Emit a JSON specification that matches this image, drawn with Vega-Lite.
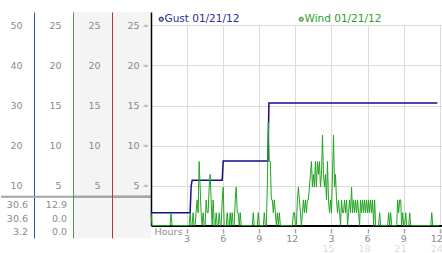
{
  "$schema": "https://vega.github.io/schema/vega-lite/v6.json",
  "padding": {"left": 0, "top": 12, "right": 0, "bottom": 0},
  "background": "white",
  "spacing": 0,
  "bounds": "flush",
  "config": {
    "font": "DejaVu Sans",
    "view": {"stroke": null},
    "axis": {"labelFont": "DejaVu Sans", "titleFont": "DejaVu Sans", "labelColor": "#8a8a8a", "labelFontSize": 9.5, "grid": false, "title": null}
  },
  "datasets": {
    "gust": [{"t":0,"gust":3.2},{"t":195,"gust":3.2},{"t":200,"gust":9.7},{"t":205,"gust":11.3},{"t":355,"gust":11.3},{"t":360,"gust":16.1},{"t":583,"gust":16.1},{"t":588,"gust":30.6},{"t":1428,"gust":30.6}],
    "stats": [{"series":"Gust","stat":"max","value":30.6},{"series":"Gust","stat":"now","value":30.6},{"series":"Gust","stat":"min","value":3.2},{"series":"Wind","stat":"max","value":12.9},{"series":"Wind","stat":"now","value":0},{"series":"Wind","stat":"min","value":0}],
    "wind": [{"t":0,"w":1.6},{"t":5,"w":0},{"t":10,"w":0},{"t":15,"w":0},{"t":20,"w":0},{"t":25,"w":0},{"t":30,"w":0},{"t":35,"w":0},{"t":40,"w":0},{"t":45,"w":0},{"t":50,"w":0},{"t":55,"w":0},{"t":60,"w":0},{"t":65,"w":0},{"t":70,"w":0},{"t":75,"w":0},{"t":80,"w":0},{"t":85,"w":0},{"t":90,"w":0},{"t":95,"w":0},{"t":100,"w":1.6},{"t":105,"w":0},{"t":110,"w":0},{"t":115,"w":0},{"t":120,"w":0},{"t":125,"w":0},{"t":130,"w":0},{"t":135,"w":0},{"t":140,"w":0},{"t":145,"w":0},{"t":150,"w":0},{"t":155,"w":0},{"t":160,"w":0},{"t":165,"w":0},{"t":170,"w":0},{"t":175,"w":0},{"t":180,"w":0},{"t":185,"w":0},{"t":190,"w":0},{"t":195,"w":1.6},{"t":200,"w":0},{"t":205,"w":0},{"t":210,"w":1.6},{"t":215,"w":0},{"t":220,"w":0},{"t":225,"w":1.6},{"t":230,"w":3.2},{"t":235,"w":1.6},{"t":240,"w":8},{"t":245,"w":4.8},{"t":250,"w":1.6},{"t":255,"w":0},{"t":260,"w":1.6},{"t":265,"w":0},{"t":270,"w":0},{"t":275,"w":3.2},{"t":280,"w":1.6},{"t":285,"w":1.6},{"t":290,"w":4.8},{"t":295,"w":6.4},{"t":300,"w":3.2},{"t":305,"w":0},{"t":310,"w":3.2},{"t":315,"w":0},{"t":320,"w":0},{"t":325,"w":1.6},{"t":330,"w":0},{"t":335,"w":0},{"t":340,"w":1.6},{"t":345,"w":0},{"t":350,"w":0},{"t":355,"w":3.2},{"t":360,"w":4.8},{"t":365,"w":0},{"t":370,"w":0},{"t":375,"w":0},{"t":380,"w":1.6},{"t":385,"w":0},{"t":390,"w":0},{"t":395,"w":1.6},{"t":400,"w":0},{"t":405,"w":1.6},{"t":410,"w":0},{"t":415,"w":0},{"t":420,"w":3.2},{"t":425,"w":4.8},{"t":430,"w":1.6},{"t":435,"w":1.6},{"t":440,"w":0},{"t":445,"w":1.6},{"t":450,"w":0},{"t":455,"w":0},{"t":460,"w":0},{"t":465,"w":0},{"t":470,"w":0},{"t":475,"w":0},{"t":480,"w":0},{"t":485,"w":0},{"t":490,"w":0},{"t":495,"w":0},{"t":500,"w":0},{"t":505,"w":0},{"t":510,"w":1.6},{"t":515,"w":0},{"t":520,"w":0},{"t":525,"w":0},{"t":530,"w":0},{"t":535,"w":1.6},{"t":540,"w":0},{"t":545,"w":0},{"t":550,"w":0},{"t":555,"w":0},{"t":560,"w":0},{"t":565,"w":1.6},{"t":570,"w":0},{"t":575,"w":0},{"t":580,"w":4.8},{"t":585,"w":12.9},{"t":590,"w":8},{"t":595,"w":8},{"t":600,"w":3.2},{"t":605,"w":3.2},{"t":610,"w":1.6},{"t":615,"w":3.2},{"t":620,"w":1.6},{"t":625,"w":0},{"t":630,"w":1.6},{"t":635,"w":0},{"t":640,"w":1.6},{"t":645,"w":0},{"t":650,"w":0},{"t":655,"w":0},{"t":660,"w":0},{"t":665,"w":0},{"t":670,"w":0},{"t":675,"w":0},{"t":680,"w":0},{"t":685,"w":0},{"t":690,"w":0},{"t":695,"w":0},{"t":700,"w":0},{"t":705,"w":0},{"t":710,"w":1.6},{"t":715,"w":1.6},{"t":720,"w":0},{"t":725,"w":0},{"t":730,"w":3.2},{"t":735,"w":4.8},{"t":740,"w":3.2},{"t":745,"w":1.6},{"t":750,"w":0},{"t":755,"w":1.6},{"t":760,"w":3.2},{"t":765,"w":1.6},{"t":770,"w":3.2},{"t":775,"w":1.6},{"t":780,"w":3.2},{"t":785,"w":3.2},{"t":790,"w":4.8},{"t":795,"w":6.4},{"t":800,"w":8},{"t":805,"w":4.8},{"t":810,"w":6.4},{"t":815,"w":4.8},{"t":820,"w":8},{"t":825,"w":4.8},{"t":830,"w":8},{"t":835,"w":6.4},{"t":840,"w":8},{"t":845,"w":4.8},{"t":850,"w":6.4},{"t":855,"w":11.3},{"t":860,"w":6.4},{"t":865,"w":4.8},{"t":870,"w":6.4},{"t":875,"w":3.2},{"t":880,"w":8},{"t":885,"w":3.2},{"t":890,"w":1.6},{"t":895,"w":3.2},{"t":900,"w":1.6},{"t":905,"w":6.4},{"t":910,"w":11.3},{"t":915,"w":4.8},{"t":920,"w":6.4},{"t":925,"w":3.2},{"t":930,"w":1.6},{"t":935,"w":3.2},{"t":940,"w":1.6},{"t":945,"w":0},{"t":950,"w":3.2},{"t":955,"w":1.6},{"t":960,"w":1.6},{"t":965,"w":3.2},{"t":970,"w":1.6},{"t":975,"w":3.2},{"t":980,"w":0},{"t":985,"w":1.6},{"t":990,"w":3.2},{"t":995,"w":1.6},{"t":1000,"w":4.8},{"t":1005,"w":1.6},{"t":1010,"w":3.2},{"t":1015,"w":1.6},{"t":1020,"w":3.2},{"t":1025,"w":1.6},{"t":1030,"w":3.2},{"t":1035,"w":1.6},{"t":1040,"w":0},{"t":1045,"w":3.2},{"t":1050,"w":1.6},{"t":1055,"w":3.2},{"t":1060,"w":1.6},{"t":1065,"w":3.2},{"t":1070,"w":1.6},{"t":1075,"w":3.2},{"t":1080,"w":1.6},{"t":1085,"w":3.2},{"t":1090,"w":1.6},{"t":1095,"w":3.2},{"t":1100,"w":1.6},{"t":1105,"w":3.2},{"t":1110,"w":0},{"t":1115,"w":3.2},{"t":1120,"w":0},{"t":1125,"w":0},{"t":1130,"w":0},{"t":1135,"w":0},{"t":1140,"w":1.6},{"t":1145,"w":0},{"t":1150,"w":0},{"t":1155,"w":0},{"t":1160,"w":0},{"t":1165,"w":0},{"t":1170,"w":0},{"t":1175,"w":0},{"t":1180,"w":0},{"t":1185,"w":1.6},{"t":1190,"w":0},{"t":1195,"w":1.6},{"t":1200,"w":0},{"t":1205,"w":0},{"t":1210,"w":0},{"t":1215,"w":0},{"t":1220,"w":0},{"t":1225,"w":0},{"t":1230,"w":3.2},{"t":1235,"w":1.6},{"t":1240,"w":3.2},{"t":1245,"w":3.2},{"t":1250,"w":0},{"t":1255,"w":1.6},{"t":1260,"w":0},{"t":1265,"w":0},{"t":1270,"w":1.6},{"t":1275,"w":0},{"t":1280,"w":0},{"t":1285,"w":0},{"t":1290,"w":1.6},{"t":1295,"w":0},{"t":1300,"w":0},{"t":1305,"w":0},{"t":1310,"w":0},{"t":1315,"w":0},{"t":1320,"w":0},{"t":1325,"w":0},{"t":1330,"w":0},{"t":1335,"w":0},{"t":1340,"w":0},{"t":1345,"w":0},{"t":1350,"w":0},{"t":1355,"w":0},{"t":1360,"w":0},{"t":1365,"w":0},{"t":1370,"w":0},{"t":1375,"w":0},{"t":1380,"w":0},{"t":1385,"w":0},{"t":1390,"w":0},{"t":1395,"w":0},{"t":1400,"w":1.6},{"t":1405,"w":0},{"t":1410,"w":0},{"t":1415,"w":0},{"t":1420,"w":0},{"t":1425,"w":0},{"t":1430,"w":0},{"t":1435,"w":0}]
  },
  "hconcat": [
    {
      "width": 33,
      "height": 226,
      "layer": [
        {
          "data": {"values": [{}]},
          "mark": {"type": "rule", "color": "#a4a4a4", "strokeWidth": 2},
          "encoding": {
            "x": {"datum": 0, "type": "quantitative", "scale": {"domain": [0, 1], "nice": false}, "axis": null},
            "x2": {"datum": 1},
            "y": {"datum": 7.2, "type": "quantitative",
                  "scale": {"domain": [-3.125, 53.375], "nice": false, "zero": false},
                  "axis": {"orient": "right", "values": [10, 20, 30, 40, 50], "domain": true, "domainColor": "#3352a8", "domainWidth": 1, "zindex": 1, "ticks": false, "tickSize": 0, "labelAlign": "right", "labelBaseline": "middle", "labelPadding": -12}}
          }
        },
        {
          "data": {"name": "stats"},
          "transform": [{"filter": "datum.series == 'Gust'"}],
          "mark": {"type": "text", "align": "right", "dx": -6, "fontSize": 9.5, "color": "#8a8a8a"},
          "encoding": {
            "x": {"datum": 1, "type": "quantitative", "scale": {"domain": [0, 1], "nice": false}, "axis": null},
            "y": {"field": "stat", "type": "ordinal", "scale": {"type": "point", "domain": ["max", "now", "min"], "range": [193, 220], "padding": 0}, "axis": null},
            "text": {"field": "value", "type": "quantitative", "format": ".1f"}
          }
        }
      ],
      "resolve": {"scale": {"y": "independent"}}
    },
    {
      "width": 39,
      "height": 226,
      "layer": [
        {
          "data": {"values": [{}]},
          "mark": {"type": "rule", "color": "#a4a4a4", "strokeWidth": 2},
          "encoding": {
            "x": {"datum": 0, "type": "quantitative", "scale": {"domain": [0, 1], "nice": false}, "axis": null},
            "x2": {"datum": 1},
            "y": {"datum": 3.6, "type": "quantitative",
                  "scale": {"domain": [-1.5625, 26.6875], "nice": false, "zero": false},
                  "axis": {"orient": "right", "values": [5, 10, 15, 20, 25], "domain": false, "ticks": false, "tickSize": 0, "labelAlign": "right", "labelBaseline": "middle", "labelPadding": -12}}
          }
        },
        {
          "data": {"name": "stats"},
          "transform": [{"filter": "datum.series == 'Wind'"}],
          "mark": {"type": "text", "align": "right", "dx": -6, "fontSize": 9.5, "color": "#8a8a8a"},
          "encoding": {
            "x": {"datum": 1, "type": "quantitative", "scale": {"domain": [0, 1], "nice": false}, "axis": null},
            "y": {"field": "stat", "type": "ordinal", "scale": {"type": "point", "domain": ["max", "now", "min"], "range": [193, 220], "padding": 0}, "axis": null},
            "text": {"field": "value", "type": "quantitative", "format": ".1f"}
          }
        }
      ],
      "resolve": {"scale": {"y": "independent"}}
    },
    {
      "width": 39,
      "height": 226,
      "view": {"fill": "#f4f4f4", "stroke": null},
      "layer": [
        {
          "data": {"values": [{}]},
          "mark": {"type": "rule", "color": "#a4a4a4", "strokeWidth": 2},
          "encoding": {
            "x": {"datum": 0, "type": "quantitative", "scale": {"domain": [0, 1], "nice": false}, "axis": null},
            "x2": {"datum": 1},
            "y": {"datum": 3.6, "type": "quantitative",
                  "scale": {"domain": [-1.5625, 26.6875], "nice": false, "zero": false},
                  "axis": {"orient": "left", "domain": true, "domainColor": "#3fa63f", "domainWidth": 1, "zindex": 1, "labels": false, "ticks": false, "grid": false, "title": null}}
          }
        },
        {
          "data": {"values": [{}]},
          "mark": {"type": "rule", "color": "#a4a4a4", "strokeWidth": 2},
          "encoding": {
            "x": {"datum": 0, "type": "quantitative", "scale": {"domain": [0, 1], "nice": false}, "axis": null},
            "x2": {"datum": 1},
            "y": {"datum": 3.6, "type": "quantitative",
                  "scale": {"domain": [-1.5625, 26.6875], "nice": false, "zero": false},
                  "axis": {"orient": "right", "values": [5, 10, 15, 20, 25], "domain": false, "ticks": false, "tickSize": 0, "labelAlign": "right", "labelBaseline": "middle", "labelPadding": -12}}
          }
        }
      ],
      "resolve": {"axis": {"y": "independent"}}
    },
    {
      "width": 39,
      "height": 226,
      "view": {"fill": "#f4f4f4", "stroke": null},
      "layer": [
        {
          "data": {"values": [{}]},
          "mark": {"type": "rule", "color": "#a4a4a4", "strokeWidth": 2},
          "encoding": {
            "x": {"datum": 0, "type": "quantitative", "scale": {"domain": [0, 1], "nice": false}, "axis": null},
            "x2": {"datum": 1},
            "y": {"datum": 3.6, "type": "quantitative",
                  "scale": {"domain": [-1.5625, 26.6875], "nice": false, "zero": false},
                  "axis": {"orient": "left", "domain": true, "domainColor": "#b23a3a", "domainWidth": 1, "zindex": 1, "labels": false, "ticks": false, "grid": false, "title": null}}
          }
        },
        {
          "data": {"values": [{}]},
          "mark": {"type": "rule", "color": "#a4a4a4", "strokeWidth": 2},
          "encoding": {
            "x": {"datum": 0, "type": "quantitative", "scale": {"domain": [0, 1], "nice": false}, "axis": null},
            "x2": {"datum": 1},
            "y": {"datum": 3.6, "type": "quantitative",
                  "scale": {"domain": [-1.5625, 26.6875], "nice": false, "zero": false},
                  "axis": {"orient": "right", "values": [5, 10, 15, 20, 25], "domain": false, "ticks": false, "tickSize": 0, "labelAlign": "right", "labelBaseline": "middle", "labelPadding": -12}}
          }
        },
        {
          "data": {"values": [{}]},
          "mark": {"type": "rule", "color": "#a4a4a4", "strokeWidth": 2},
          "encoding": {
            "x": {"datum": 0, "type": "quantitative", "scale": {"domain": [0, 1], "nice": false}, "axis": null},
            "x2": {"datum": 1},
            "y": {"datum": 3.6, "type": "quantitative",
                  "scale": {"domain": [-1.5625, 26.6875], "nice": false, "zero": false},
                  "axis": {"orient": "right", "values": [5, 10, 15, 20, 25], "domain": false, "ticks": false, "tickSize": 0, "labelAlign": "right", "labelBaseline": "middle", "labelPadding": -3, "labelExpr": "'≈'", "labelFontSize": 7, "labelColor": "#a0a0a0"}}
          }
        }
      ],
      "resolve": {"axis": {"y": "independent"}}
    },
    {
      "width": 292,
      "height": 213.5,
      "layer": [
        {
          "data": {"name": "gust"},
          "mark": {"type": "line", "strokeWidth": 1.5},
          "encoding": {
            "x": {"field": "t", "type": "quantitative",
                  "scale": {"domain": [0, 1456], "nice": false, "zero": false},
                  "axis": {"orient": "bottom", "values": [180, 360, 540, 720, 900, 1080, 1260, 1440], "domain": true, "domainColor": "#000000", "domainWidth": 2, "ticks": true, "tickSize": -200, "tickColor": "#dadada", "tickWidth": 1, "labelExpr": "datum.value > 720 ? '' + datum.value / 60 : ''", "labelColor": "#dcdcdc", "labelPadding": 217.5, "labelAlign": "right", "labelOffset": 2.5, "labelFlush": false, "labelOverlap": false, "grid": false, "title": null}},
            "y": {"field": "gust", "type": "quantitative",
                  "scale": {"domain": [0, 53.375], "nice": false},
                  "axis": {"orient": "left", "values": [10, 20, 30, 40, 50], "grid": true, "gridColor": "#dadada", "gridWidth": 1, "domain": true, "domainColor": "#000000", "domainWidth": 1.5, "ticks": false, "labels": false, "title": null}},
            "color": {"datum": "Gust 01/21/12", "type": "nominal", "scale": {"range": ["#10108a"]},
                      "legend": {"orient": "none", "legendX": 5, "legendY": 2, "title": null, "symbolType": "circle", "symbolSize": 18, "symbolFillColor": "#b8b8b8", "symbolStrokeColor": "#8a8a8a", "symbolStrokeWidth": 1, "labelColor": "#2b2b9c", "labelFontSize": 10.5, "labelFont": "DejaVu Sans", "labelOffset": -2, "padding": 0}}
          }
        },
        {
          "data": {"name": "wind"},
          "mark": {"type": "line", "strokeWidth": 1},
          "encoding": {
            "x": {"field": "t", "type": "quantitative",
                  "scale": {"domain": [0, 1456], "nice": false, "zero": false},
                  "axis": {"orient": "bottom", "values": [180, 360, 540, 720, 900, 1080, 1260, 1440], "domain": false, "ticks": true, "tickSize": 7.5, "tickDash": [0, 3, 4.5, 100], "tickColor": "#a8a8a8", "tickWidth": 1.5, "labelExpr": "datum.value > 720 ? '' + (datum.value / 60 - 12) : '' + datum.value / 60", "labelPadding": 0, "labelAlign": "right", "labelOffset": 2.5, "labelFlush": false, "labelOverlap": false, "grid": false, "title": "Hours", "titleAnchor": "start", "titleAlign": "left", "titleBaseline": "top", "titleX": 3, "titleY": 1, "titleColor": "#8a8a8a", "titleFontSize": 9.5, "titleFontWeight": "normal"}},
            "y": {"field": "w", "type": "quantitative", "scale": {"domain": [0, 26.6875], "nice": false}, "axis": null},
            "color": {"datum": "Wind 01/21/12", "type": "nominal", "scale": {"range": ["#22a422"]},
                      "legend": {"orient": "none", "legendX": 145, "legendY": 2, "title": null, "symbolType": "circle", "symbolSize": 18, "symbolFillColor": "#b8b8b8", "symbolStrokeColor": "#8a8a8a", "symbolStrokeWidth": 1, "labelColor": "#2e9e2e", "labelFontSize": 10.5, "labelFont": "DejaVu Sans", "labelOffset": -2, "padding": 0}}
          }
        }
      ],
      "resolve": {"scale": {"y": "independent", "color": "independent"}, "axis": {"x": "independent", "y": "independent"}, "legend": {"color": "independent"}}
    }
  ]
}
